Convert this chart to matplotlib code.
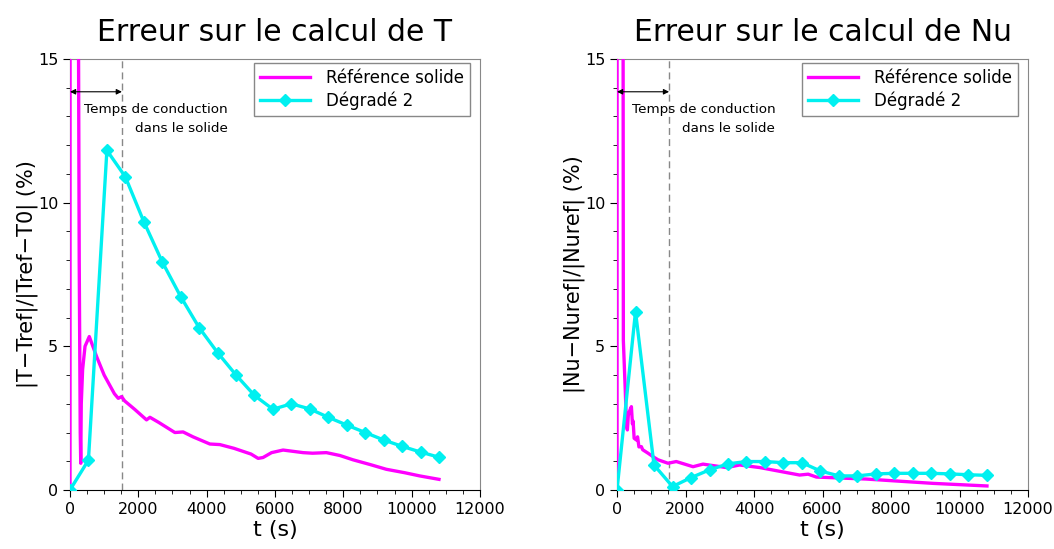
import matplotlib
matplotlib.use("Agg")
import matplotlib.pyplot as plt
from matplotlib.ticker import MultipleLocator
import numpy as np

# cyan series, sampled every 540 s
t_deg = [0, 540, 1080, 1620, 2160, 2700, 3240, 3780, 4320, 4860, 5400,
         5940, 6480, 7020, 7560, 8100, 8640, 9180, 9720, 10260, 10800]
errT_deg = [0.0, 1.04, 11.82, 10.9, 9.34, 7.94, 6.73, 5.65, 4.78, 4.0, 3.29,
            2.81, 3.0, 2.82, 2.53, 2.26, 2.0, 1.74, 1.52, 1.32, 1.14]
errNu_deg = [0.0, 6.21, 0.87, 0.12, 0.43, 0.70, 0.91, 0.99, 0.99, 0.95, 0.95,
             0.66, 0.49, 0.49, 0.56, 0.58, 0.58, 0.58, 0.56, 0.53, 0.51]

# magenta reference (solid)
t_refT = [0, 10, 235, 250, 270, 300, 315, 330, 370, 440, 565, 780, 1000, 1300,
          1413, 1510, 1600, 1900, 2240, 2340, 2600, 3070, 3310, 3600, 4094, 4386,
          4800, 5300, 5506, 5650, 5900, 6237, 6822, 7100, 7505, 7900, 8284, 8800,
          9259, 9800, 10234, 10800]
errT_ref = [0, 60, 60, 15.5, 8.0, 2.0, 0.93, 3.0, 4.2, 5.0, 5.34, 4.64, 4.0, 3.35,
            3.19, 3.25, 3.1, 2.8, 2.44, 2.53, 2.35, 2.0, 2.02, 1.85, 1.6, 1.58,
            1.45, 1.25, 1.1, 1.13, 1.3, 1.39, 1.3, 1.28, 1.3, 1.2, 1.05, 0.88,
            0.72, 0.6, 0.49, 0.37]

t_refNu = [0, 5, 170, 178, 185, 240, 280, 303, 330, 380, 420, 450, 470, 500, 565,
           600, 640, 711, 750, 906, 1050, 1200, 1490, 1730, 2220, 2510, 3200,
           3580, 4170, 5330, 5580, 5820, 7280, 9230, 10800]
errNu_ref = [0, 60, 60, 15.5, 5.2, 3.5, 2.2, 2.09, 2.6, 2.79, 2.9, 2.3, 2.4, 1.8,
             1.74, 1.85, 1.5, 1.51, 1.4, 1.28, 1.16, 1.05, 0.93, 0.99, 0.81, 0.9,
             0.78, 0.87, 0.78, 0.52, 0.55, 0.45, 0.38, 0.23, 0.14]

t_cond = 1520

MAGENTA = "#ff00ff"
CYAN = "#00f0f0"

fig = plt.figure(figsize=(10.54, 5.49), dpi=100)
ax1 = fig.add_axes([0.0664, 0.1075, 0.389, 0.785])
ax2 = fig.add_axes([0.5854, 0.1075, 0.390, 0.785])

panels = [
    (ax1, t_refT, errT_ref, errT_deg, "Erreur sur le calcul de T", "|T\u2212Tref|/|Tref\u2212T0| (%)"),
    (ax2, t_refNu, errNu_ref, errNu_deg, "Erreur sur le calcul de Nu", "|Nu\u2212Nuref|/|Nuref| (%)"),
]

for ax, t_ref, e_ref, e_deg, title, ylabel in panels:
    ax.plot(t_ref, e_ref, color=MAGENTA, lw=2.4, label="Référence solide", zorder=3)
    ax.plot(t_deg, e_deg, color=CYAN, lw=2.4, marker="D", ms=6.5,
            label="Dégradé 2", zorder=4)
    ax.axvline(t_cond, color="#888888", lw=1.0, ls=(0, (5, 3)), zorder=2)
    ax.annotate("", xy=(0, 13.86), xytext=(t_cond, 13.86),
                arrowprops=dict(arrowstyle="<|-|>", color="black", lw=0.8,
                                mutation_scale=8, shrinkA=0, shrinkB=0))
    ax.text(4620, 12.9, "Temps de conduction\ndans le solide", ha="right", va="center",
            fontsize=9.7, linespacing=1.6, multialignment="right")

    ax.set_xlim(0, 12000)
    ax.set_ylim(0, 15)
    ax.xaxis.set_major_locator(MultipleLocator(2000))
    ax.xaxis.set_minor_locator(MultipleLocator(500))
    ax.yaxis.set_major_locator(MultipleLocator(5))
    ax.yaxis.set_minor_locator(MultipleLocator(1))
    ax.tick_params(which="major", direction="out", length=5, labelsize=11.5)
    ax.tick_params(which="minor", direction="out", length=3)
    for s in ["top", "right"]:
        ax.spines[s].set_color("#888888")
    ax.set_title(title, fontsize=21.5, pad=13)
    ax.set_xlabel("t (s)", fontsize=16, labelpad=2)
    ax.set_ylabel(ylabel, fontsize=15, labelpad=0)

    leg = ax.legend(loc="upper right", bbox_to_anchor=(0.976, 0.991), borderaxespad=0,
                    fontsize=12, fancybox=False, framealpha=1, handlelength=3.0,
                    labelspacing=0.3, handletextpad=1.0, borderpad=0.35,
                    edgecolor="#888888")
    leg.get_frame().set_linewidth(1.0)

fig.savefig("out.png", dpi=100)
